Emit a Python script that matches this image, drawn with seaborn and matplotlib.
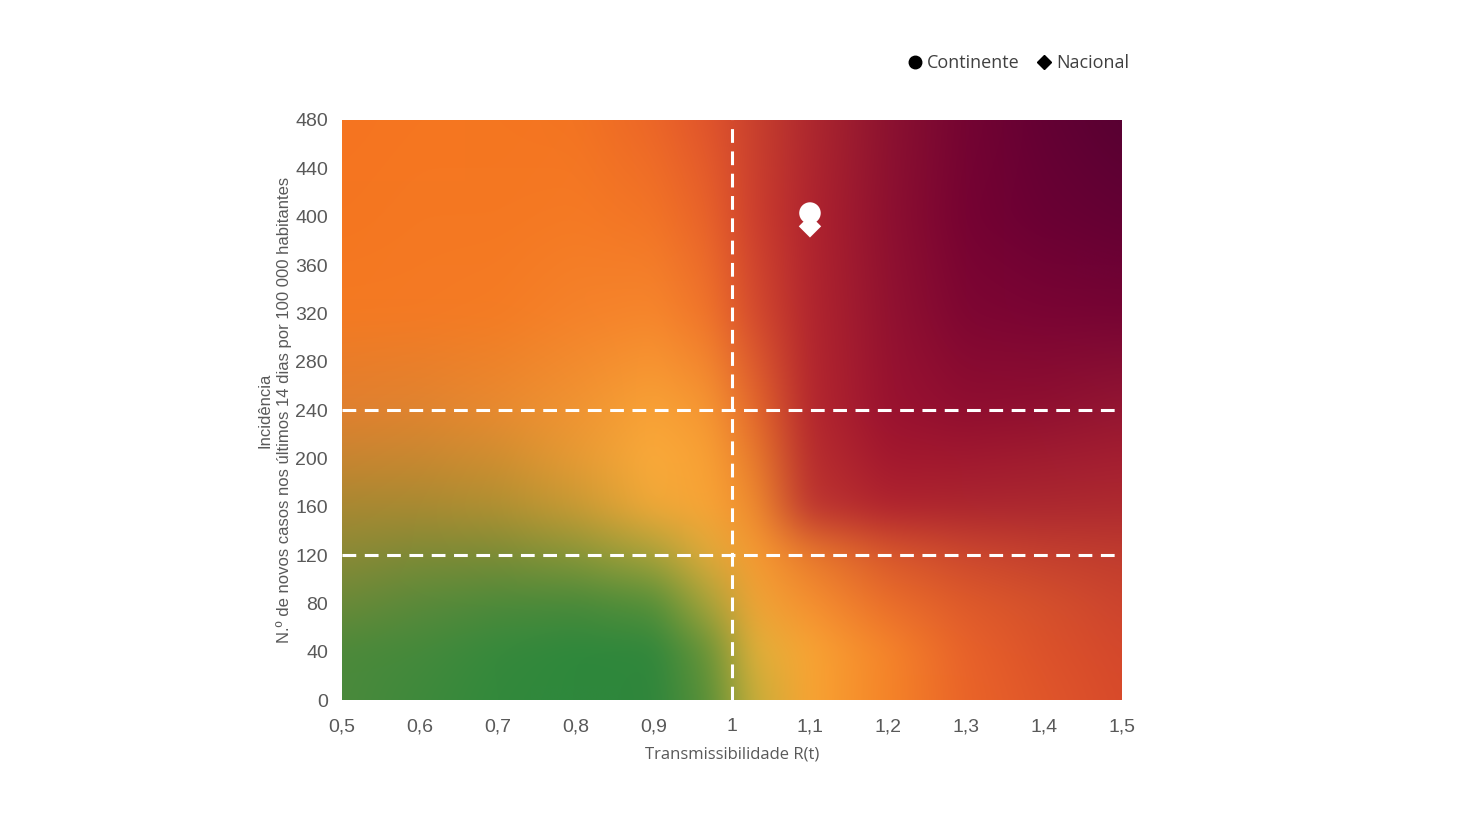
import numpy as np
import pandas as pd
import matplotlib
matplotlib.use("Agg")
import matplotlib.pyplot as plt
from matplotlib.colors import to_rgb
from matplotlib.lines import Line2D
import seaborn as sns

# data
series = ["Continente", "Nacional"]
rt_values = [1.10, 1.10]
incidence_values = [403, 392]
marker_sizes = {"Continente": 240, "Nacional": 130}

x_ticks = [0.5, 0.6, 0.7, 0.8, 0.9, 1.0, 1.1, 1.2, 1.3, 1.4, 1.5]
x_tick_labels = ["0,5", "0,6", "0,7", "0,8", "0,9", "1", "1,1", "1,2", "1,3", "1,4", "1,5"]
y_ticks = [0, 40, 80, 120, 160, 200, 240, 280, 320, 360, 400, 440, 480]
rt_threshold = [1.0]
incidence_thresholds = [120, 240]

# background colour grid
bg_rt = [0.5, 0.6, 0.7, 0.8, 0.9, 0.97, 1.03, 1.1, 1.2, 1.3, 1.4, 1.5]
bg_inc = [0, 40, 80, 120, 160, 200, 240, 320, 400, 480]
bg_rows = [
    ["#4A8A3C", "#3E8A3C", "#32893C", "#2E883C", "#2F863C", "#5A9038", "#C8AE3A", "#F8A433", "#F58428", "#EA6428", "#E0562A", "#D84A2A"],
    ["#4C8A3A", "#44893B", "#36893C", "#2E883C", "#30873C", "#6A9438", "#E0B03A", "#F8A434", "#F5842A", "#E8622A", "#DC522A", "#D4482C"],
    ["#6A8A38", "#5A8A3A", "#4E8A3A", "#4A8A3A", "#569039", "#A8A43A", "#F0A436", "#F59030", "#EA6E2A", "#DE5A2A", "#D4502C", "#CC442E"],
    ["#8A8A36", "#7E8A36", "#7C8C36", "#889638", "#A8A23A", "#E0AA3A", "#F69A32", "#E87A2C", "#D8582C", "#CC482E", "#C4402E", "#C03C2E"],
    ["#A88832", "#A88A32", "#B09032", "#C89A34", "#F0A838", "#F8A436", "#EE8A2E", "#BE3630", "#B0242F", "#AC262F", "#AC2830", "#AE2A30"],
    ["#C88530", "#C88830", "#D08E30", "#E69A34", "#FAAA3A", "#F8A034", "#E87A2C", "#B82E2E", "#A3182E", "#A0182F", "#A01C30", "#A41E30"],
    ["#E08030", "#E08430", "#E88A30", "#F09432", "#F8A236", "#F59632", "#E4682C", "#B5282E", "#9A1230", "#900E30", "#901030", "#941632"],
    ["#F47A22", "#F47A24", "#F47C24", "#F5822A", "#F6862C", "#F0742A", "#D44A2E", "#B2262E", "#921230", "#7E0632", "#7A0434", "#760434"],
    ["#F57620", "#F57822", "#F57822", "#F57A24", "#F27426", "#E8622A", "#CC3E2E", "#B0242E", "#8E1030", "#760232", "#6A0034", "#640034"],
    ["#F57420", "#F57620", "#F57620", "#F37422", "#EC6628", "#E0542C", "#C8402E", "#AE282E", "#8C1230", "#740432", "#640034", "#580032"],
]

sns.set_theme(style="white")
plt.rcParams["font.family"] = ["Liberation Sans", "DejaVu Sans"]

fig = plt.figure(figsize=(14.78, 8.31), dpi=100)
ax = fig.add_axes([0.2314, 0.1576, 0.5277, 0.698])

# smooth background from the colour grid
grid = np.array([[to_rgb(c) for c in row] for row in bg_rows])
fx = np.linspace(0.5, 1.5, 500)
fy = np.linspace(0, 480, 360)
tmp = np.stack([[np.interp(fx, bg_rt, grid[i, :, k]) for k in range(3)]
                for i in range(len(bg_inc))])            # (rows, 3, nx)
img = np.stack([[np.interp(fy, bg_inc, tmp[:, k, j]) for j in range(len(fx))]
                for k in range(3)])                       # (3, nx, ny)
img = img.transpose(2, 1, 0)
kern = np.exp(-np.linspace(-2.5, 2.5, 41) ** 2 / 2)
kern /= kern.sum()
pad = 20
for axis in (0, 1):
    padded = np.pad(img, [(pad, pad) if a == axis else (0, 0) for a in range(3)], mode="edge")
    img = np.apply_along_axis(lambda v: np.convolve(v, kern, mode="valid"), axis, padded)
ax.imshow(np.clip(img, 0, 1), extent=[0.5, 1.5, 0, 480], origin="lower",
          aspect="auto", interpolation="bicubic", zorder=0)

for xv in rt_threshold:
    ax.axvline(xv, color="white", lw=2.2, dashes=(4.5, 2.8), zorder=2)
for yv in incidence_thresholds:
    ax.axhline(yv, color="white", lw=2.2, dashes=(4.5, 2.8), zorder=2)

df = pd.DataFrame({"rt": rt_values, "inc": incidence_values, "serie": series})
sns.scatterplot(data=df.iloc[::-1], x="rt", y="inc", style="serie", size="serie",
                markers={"Continente": "o", "Nacional": "D"}, sizes=marker_sizes,
                color="white", edgecolor="none", legend=False, ax=ax, zorder=3)

ax.set_xlim(0.5, 1.5)
ax.set_ylim(0, 480)
ax.set_xticks(x_ticks)
ax.set_xticklabels(x_tick_labels)
ax.set_yticks(y_ticks)
ax.tick_params(axis="both", labelsize=14, colors="#595959", length=0)
ax.tick_params(axis="x", pad=13)
ax.tick_params(axis="y", pad=10)
for s in ax.spines.values():
    s.set_visible(False)

ax.set_xlabel("Transmissibilidade R(t)", family="Open Sans", fontsize=12,
              color="#595959", labelpad=8)
ax.set_ylabel("Incidência\nN.º de novos casos nos últimos 14 dias por 100 000 habitantes",
              fontsize=12, color="#595959", labelpad=2, linespacing=1.3)

handles = [Line2D([], [], marker="o", ls="", color="black", markersize=9),
           Line2D([], [], marker="D", ls="", color="black", markersize=7)]
fig.legend(handles, series, loc="center left", bbox_to_anchor=(0.604, 0.924),
           ncol=2, frameon=False, handlelength=0.7, handletextpad=0.3, columnspacing=1.0,
           prop={"family": "Open Sans", "size": 13}, labelcolor="#404040")

fig.savefig("out.png", dpi=100)
